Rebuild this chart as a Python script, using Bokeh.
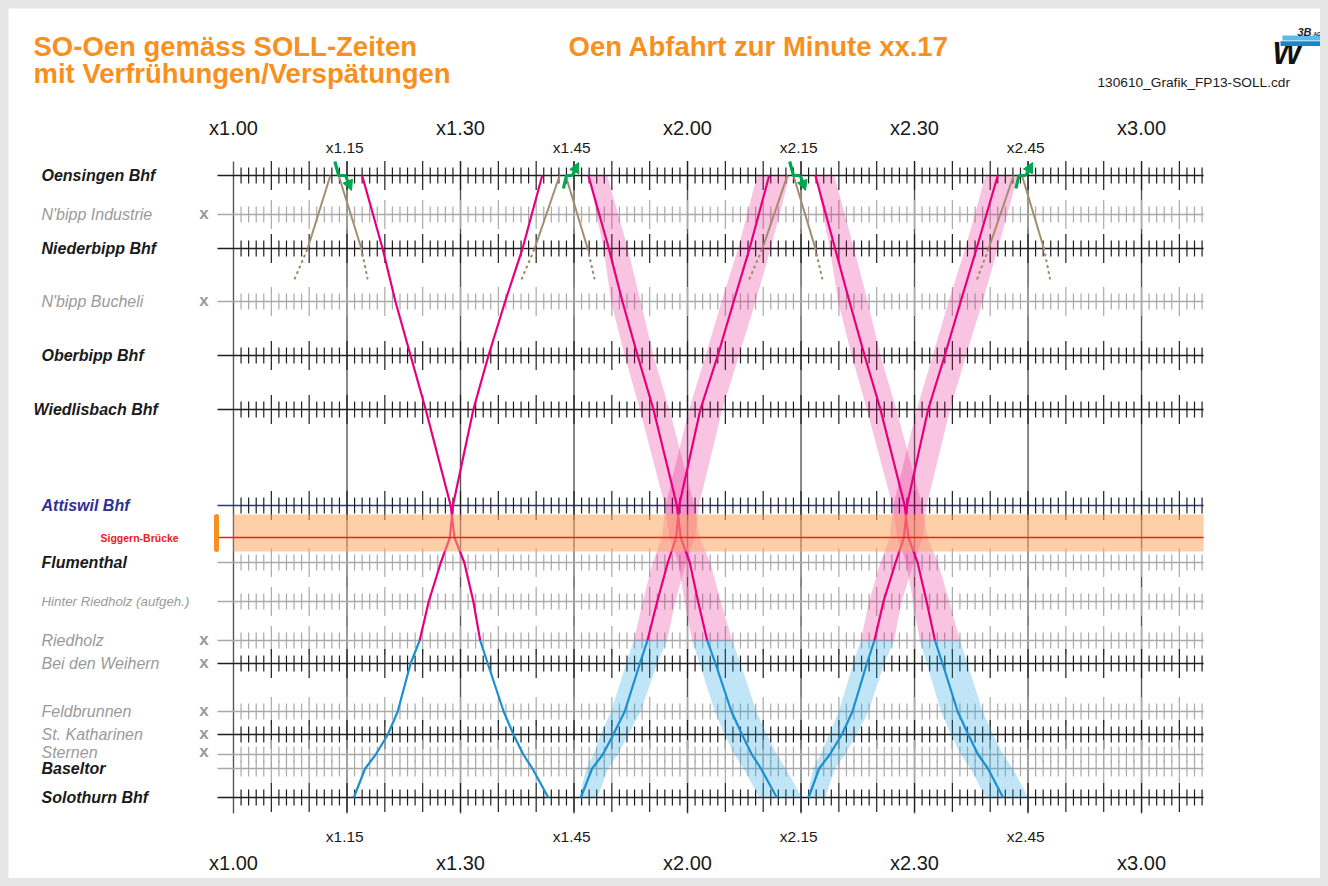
import numpy as np
from bokeh.plotting import figure
from bokeh.models import Range1d, ColumnDataSource, Arrow, NormalHead
from bokeh.embed import file_html
from bokeh.resources import INLINE
from bokeh.core.properties import value

# ---------------------------------------------------------------- data
station_names = ["Oensingen Bhf", "N'bipp Industrie", "Niederbipp Bhf", "N'bipp Bucheli",
                 "Oberbipp Bhf", "Wiedlisbach Bhf", "Attiswil Bhf", "Siggern-Brücke",
                 "Flumenthal", "Hinter Riedholz (aufgeh.)", "Riedholz", "Bei den Weihern",
                 "Feldbrunnen", "St. Katharinen", "Sternen", "Baseltor", "Solothurn Bhf"]
# position along the line (diagram distance units, top = Oensingen)
station_pos = [175, 214, 248, 301, 355, 409, 505, 537, 562, 601, 640, 663, 711, 734, 754, 768, 797]
request_stops = ["N'bipp Industrie", "N'bipp Bucheli", "Riedholz", "Bei den Weihern",
                 "Feldbrunnen", "St. Katharinen", "Sternen"]
langenthal_stub_pos = 278  # direction Langenthal (dotted continuation)

major_ticks = [0, 30, 60, 90, 120]
major_labels = ["x1.00", "x1.30", "x2.00", "x2.30", "x3.00"]
minor_ticks = [15, 45, 75, 105]
minor_labels = ["x1.15", "x1.45", "x2.15", "x2.45"]

timing_stations = ["Oensingen Bhf", "Niederbipp Bhf", "N'bipp Bucheli", "Oberbipp Bhf",
                   "Wiedlisbach Bhf", "Attiswil Bhf", "Siggern-Brücke", "Flumenthal",
                   "Hinter Riedholz (aufgeh.)", "Riedholz", "Bei den Weihern", "Feldbrunnen",
                   "St. Katharinen", "Sternen", "Baseltor", "Solothurn Bhf"]

# minutes after x.00 of the first hour, per timing station (Oensingen ... Solothurn)
south_1 = [17.0, 19.7, 21.4, 23.4, 25.4, 28.7, 29.2, 30.5, 31.7, 32.6, 33.6, 35.7, 37.0, 38.3, 39.5, 41.6]
south_2 = [46.9, 49.6, 51.4, 53.4, 55.5, 58.6, 59.1, 60.3, 61.4, 62.6, 63.7, 65.8, 67.2, 68.5, 69.7, 71.8]
south_3 = [76.9, 79.5, 81.4, 83.4, 85.5, 88.7, 89.2, 90.4, 91.6, 92.7, 93.7, 95.7, 97.1, 98.4, 99.7, 101.7]
north_1 = [40.8, 38.2, 35.9, 33.7, 31.7, 29.0, 28.6, 27.4, 25.8, 24.6, 23.4, 21.7, 20.4, 18.8, 17.4, 15.9]
north_2 = [70.8, 68.2, 66.1, 64.0, 61.7, 58.9, 58.5, 57.4, 56.0, 54.7, 53.7, 51.7, 50.2, 48.8, 47.4, 45.9]
north_3 = [101.0, 98.2, 96.1, 94.0, 91.8, 89.0, 88.6, 87.5, 85.9, 84.7, 83.7, 81.8, 80.4, 78.8, 77.4, 76.0]

# tolerance band (Verfrühung / Verspätung) in minutes relative to the SOLL time
south_early = [0.0, -0.7, -1.5, -1.7, -1.8, -1.6, -1.5, -1.5, -1.8, -2.0, -2.1, -2.2, -2.3, -2.3, -2.3, -2.3]
south_late = [2.5, 2.5, 2.4, 2.1, 2.1, 2.3, 2.5, 2.7, 3.0, 3.3, 3.3, 3.3, 3.3, 3.3, 3.3, 3.3]
north_early = [-1.6, -1.5, -1.6, -1.6, -1.5, -1.8, -1.9, -2.0, -1.9, -1.8, -1.8, -1.8, -1.7, -1.2, -0.8, -0.2]
north_late = [2.7, 2.8, 2.9, 2.8, 2.9, 2.6, 2.5, 2.4, 2.4, 2.6, 2.3, 2.1, 2.0, 2.0, 2.1, 2.2]

# Langenthal trains (Niederbipp <-> Oensingen)
brown_up_stub = [8.1, 38.1, 68.2, 98.3]
brown_up_nb = [9.8, 39.8, 69.9, 99.8]
brown_up_oen = [12.8, 43.1, 73.2, 103.1]
brown_dn_oen = [13.9, 43.9, 74.0, 104.2]
brown_dn_nb = [16.9, 46.8, 76.9, 107.1]
brown_dn_stub = [17.7, 47.7, 77.8, 107.9]

# connection arrows at Oensingen (minutes of the 4 vertices)
conn_down = [[13.4, 13.9, 14.8, 15.6], [73.5, 74.0, 74.9, 75.6]]
conn_up = [[43.6, 44.0, 44.8, 45.6], [103.4, 103.8, 104.7, 105.6]]

# ---------------------------------------------------------------- layout helpers
PX_PER_MIN = 7.567
X0 = 233.0
W, H = 1312, 870
FONT = value("Liberation Sans")


def X(px):
    return (px - X0) / PX_PER_MIN


p = figure(width=W, height=H, x_range=Range1d(X(8), X(8 + W)), y_range=Range1d(8 + H, 8),
           output_backend="svg", toolbar_location=None, x_axis_type=None, y_axis_type=None,
           min_border=0, outline_line_color=None, background_fill_color="white",
           border_fill_color="white")

spos = dict(zip(station_names, station_pos))
tpos = [spos[n] for n in timing_stations]
RIED = timing_stations.index("Riedholz")

LINE_START = X(217)
LINE_END = 128.2

line_kind = {"Oensingen Bhf": "dark", "N'bipp Industrie": "light", "Niederbipp Bhf": "dark",
             "N'bipp Bucheli": "light", "Oberbipp Bhf": "dark", "Wiedlisbach Bhf": "dark",
             "Attiswil Bhf": "blue", "Siggern-Brücke": "red", "Flumenthal": "light",
             "Hinter Riedholz (aufgeh.)": "light", "Riedholz": "light", "Bei den Weihern": "dark",
             "Feldbrunnen": "light", "St. Katharinen": "dark", "Sternen": "light",
             "Baseltor": "light", "Solothurn Bhf": "dark"}
line_col = {"dark": "#1e1e1e", "light": "#a9a9a9", "blue": "#2e3192", "red": "#ff1f1f"}
tick_col = {"dark": "#1e1e1e", "light": "#a9a9a9", "blue": "#1e1e1e"}

# vertical grid lines every 15 minutes
grid_x = list(range(0, 121, 15))
p.segment(x0=grid_x, x1=grid_x, y0=161, y1=813, line_color="#555555", line_width=1.4)

# station lines and minute ticks
for n in station_names:
    k = line_kind[n]
    y = spos[n]
    if k == "red":
        continue
    p.segment(x0=[LINE_START], x1=[LINE_END], y0=[y], y1=[y], line_color=line_col[k],
              line_width=1.4)
    if k in tick_col:
        mins = np.arange(1, 129)
        half = np.where(mins % 5 == 0, 14.5, 8.0)
        p.segment(x0=mins, x1=mins, y0=y - half, y1=y + half, line_color=tick_col[k],
                  line_width=1.2)


def band(times, early, late, lo, hi, color, alpha):
    t = np.array(times[lo:hi + 1])
    e = t + np.array(early[lo:hi + 1])
    l = t + np.array(late[lo:hi + 1])
    ys = tpos[lo:hi + 1]
    xs = list(e) + list(l[::-1])
    yy = list(ys) + list(ys[::-1])
    p.patch(xs, yy, fill_color=color, fill_alpha=alpha, line_color=None)


PINK = "#e6007e"
BLUE = "#1b8fd1"
last = len(timing_stations) - 1

for tr in [south_2, south_3]:
    band(tr, south_early, south_late, 0, RIED, PINK, 0.23)
    band(tr, south_early, south_late, RIED, last, "#1ea3e3", 0.28)
for tr in [north_2, north_3]:
    band(tr, north_early, north_late, 0, RIED, PINK, 0.23)
    band(tr, north_early, north_late, RIED, last, "#1ea3e3", 0.28)

# Langenthal trains (brown)
BROWN = "#a38d6d"
for a, b, c, d in zip(brown_up_nb, brown_up_oen, brown_dn_oen, brown_dn_nb):
    p.line([a, b], [spos["Niederbipp Bhf"], spos["Oensingen Bhf"]], line_color=BROWN, line_width=2)
    p.line([c, d], [spos["Oensingen Bhf"], spos["Niederbipp Bhf"]], line_color=BROWN, line_width=2)
for a, b in zip(brown_up_stub, brown_up_nb):
    p.line([a, b], [langenthal_stub_pos, spos["Niederbipp Bhf"]], line_color=BROWN,
           line_width=2.2, line_dash="1 5", line_cap="round")
for a, b in zip(brown_dn_nb, brown_dn_stub):
    p.line([a, b], [spos["Niederbipp Bhf"], langenthal_stub_pos], line_color=BROWN,
           line_width=2.2, line_dash="1 5", line_cap="round")

# ASm trains
for tr in [south_1, south_2, south_3, north_1, north_2, north_3]:
    p.line(tr[:RIED + 1], tpos[:RIED + 1], line_color=PINK, line_width=2.2)
    p.line(tr[RIED:], tpos[RIED:], line_color=BLUE, line_width=2.2)

# Siggern bridge zone
ys = spos["Siggern-Brücke"]
p.quad(left=0, right=LINE_END, top=ys - 23, bottom=ys + 14, fill_color="#fca862",
       fill_alpha=0.55, line_color=None)
p.line([X(217), LINE_END], [ys, ys], line_color="#ff1a1a", line_width=1.4)
p.line([X(216), X(216)], [ys - 21, ys + 12], line_color="#f7901e",
       line_width=5, line_cap="round")

# connection arrows
GREEN = "#00a650"
yo = spos["Oensingen Bhf"]
for xs in conn_down:
    yy = [yo - 14, yo, yo, yo + 15]
    p.line(xs[:3], yy[:3], line_color=GREEN, line_width=3.2)
    p.add_layout(Arrow(x_start=xs[2], y_start=yy[2], x_end=xs[3], y_end=yy[3],
                       line_color=GREEN, line_width=3.2,
                       end=NormalHead(size=10, fill_color=GREEN, line_color=GREEN)))
for xs in conn_up:
    yy = [yo + 13, yo, yo, yo - 13]
    p.line(xs[:3], yy[:3], line_color=GREEN, line_width=3.2)
    p.add_layout(Arrow(x_start=xs[2], y_start=yy[2], x_end=xs[3], y_end=yy[3],
                       line_color=GREEN, line_width=3.2,
                       end=NormalHead(size=10, fill_color=GREEN, line_color=GREEN)))

# ---------------------------------------------------------------- texts
def txt(x, y, s, size, color="black", style="normal", align="left"):
    p.text(x=[x], y=[y], text=[s], text_font=FONT, text_font_size=value(size),
           text_color=color, text_font_style=value(style), text_align=align,
           text_baseline="middle")


label_style = {"main": ("16px", "#1a1a1a", "bold italic"),
               "minor": ("16px", "#9a9a9a", "italic"),
               "small": ("13.3px", "#9a9a9a", "italic"),
               "att": ("16px", "#2e3192", "bold italic"),
               "bridge": ("10.5px", "#ed1c24", "bold")}
label_kind = {"Oensingen Bhf": "main", "N'bipp Industrie": "minor", "Niederbipp Bhf": "main",
              "N'bipp Bucheli": "minor", "Oberbipp Bhf": "main", "Wiedlisbach Bhf": "main",
              "Attiswil Bhf": "att", "Siggern-Brücke": "bridge", "Flumenthal": "main",
              "Hinter Riedholz (aufgeh.)": "small", "Riedholz": "minor",
              "Bei den Weihern": "minor", "Feldbrunnen": "minor", "St. Katharinen": "minor",
              "Sternen": "minor", "Baseltor": "main", "Solothurn Bhf": "main"}
label_left = {"Wiedlisbach Bhf": 33, "Siggern-Brücke": 100}
label_dy = {"Sternen": -2}
for n in station_names:
    size, col, sty = label_style[label_kind[n]]
    txt(X(label_left.get(n, 41)), spos[n] + label_dy.get(n, 0), n, size, col, sty)
for n in request_stops:
    txt(X(203.5), spos[n] + label_dy.get(n, 0) - 1, "x", "17px", "#9a9a9a", "bold", "center")

for m, s in zip(major_ticks, major_labels):
    txt(m, 127, s, "20px", "#1a1a1a", "normal", "center")
    txt(m, 862, s, "20px", "#1a1a1a", "normal", "center")
for m, s in zip(minor_ticks, minor_labels):
    txt(m - 0.3, 147, s, "15.5px", "#1a1a1a", "normal", "center")
    txt(m - 0.3, 836, s, "15.5px", "#1a1a1a", "normal", "center")

ORANGE = "#f7901e"
txt(X(33), 46, "SO-Oen gemäss SOLL-Zeiten", "27.5px", ORANGE, "bold")
txt(X(33), 73, "mit Verfrühungen/Verspätungen", "27.5px", ORANGE, "bold")
txt(X(568), 46, "Oen Abfahrt zur Minute xx.17", "27.5px", ORANGE, "bold")
txt(X(1097), 82, "130610_Grafik_FP13-SOLL.cdr", "13.7px", "#1a1a1a", "normal")

# logo (approximation)
txt(X(1272), 53, "W", "31px", "#111111", "bold italic")
p.quad(left=X(1282), right=X(1322), top=35, bottom=40, fill_color="#5bbcec", line_color=None)
p.quad(left=X(1280), right=X(1322), top=40.8, bottom=45.5, fill_color="#1a86c8", line_color=None)
txt(X(1297), 31, "3B", "11px", "#222222", "bold italic")
txt(X(1313), 33, "AG", "5px", "#222222", "bold")

html = file_html(p, INLINE, title="SO-Oen SOLL")
html = html.replace("</head>",
                    "<style>html,body{margin:0;padding:0;background:#e6e6e6;}"
                    "body{padding:8px;}</style></head>", 1)
open("out.html", "w").write(html)
